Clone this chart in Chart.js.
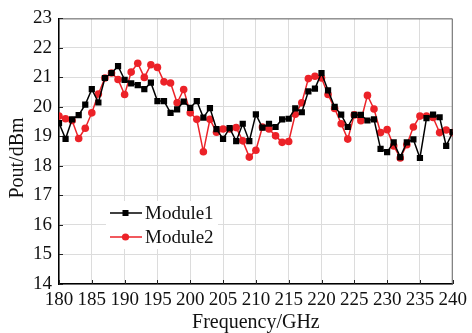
<!DOCTYPE html>
<html>
<head>
<meta charset="utf-8">
<script src="https://cdn.jsdelivr.net/npm/chart.js@4.4.0/dist/chart.umd.min.js"></script>
<style>
html, body { margin: 0; padding: 0; background: #fff; }
#wrap { width: 472px; height: 333px; }
</style>
</head>
<body>
<div id="wrap"><canvas id="myChart" width="472" height="333"></canvas></div>
<script>
// frequency points (GHz)
var freqs = [180, 181, 182, 183, 184, 185, 186, 187, 188, 189,
             190, 191, 192, 193, 194, 195, 196, 197, 198, 199,
             200, 201, 202, 203, 204, 205, 206, 207, 208, 209,
             210, 211, 212, 213, 214, 215, 216, 217, 218, 219,
             220, 221, 222, 223, 224, 225, 226, 227, 228, 229,
             230, 231, 232, 233, 234, 235, 236, 237, 238, 239, 240];

// output power (dBm)
var module1 = [19.45, 18.92, 19.58, 19.72, 20.08, 20.6, 20.15, 20.98, 21.15, 21.38,
               20.92, 20.8, 20.74, 20.6, 20.82, 20.2, 20.2, 19.8, 19.92, 20.18,
               19.97, 20.2, 19.64, 19.96, 19.25, 18.92, 19.28, 18.84, 19.43, 18.84,
               19.75, 19.3, 19.43, 19.32, 19.58, 19.6, 19.95, 19.82, 20.53, 20.62,
               21.15, 20.56, 20.0, 19.74, 19.32, 19.73, 19.73, 19.54, 19.58, 18.58,
               18.47, 18.8, 18.3, 18.8, 18.9, 18.27, 19.62, 19.74, 19.65, 18.68, 19.15];

var module2 = [19.69, 19.6, 19.54, 18.93, 19.28, 19.8, 20.44, 20.98, 21.15, 20.93,
               20.42, 21.18, 21.48, 21.0, 21.43, 21.34, 20.85, 20.81, 20.14, 20.59,
               19.8, 19.58, 18.48, 19.58, 19.14, 19.25, 19.25, 19.3, 18.85, 18.3,
               18.53, 19.32, 19.25, 19.02, 18.8, 18.83, 19.75, 20.14, 20.96, 21.04,
               20.98, 20.42, 19.95, 19.43, 18.91, 19.73, 19.53, 20.39, 19.93, 19.13,
               19.23, 18.68, 18.27, 18.72, 19.32, 19.69, 19.69, 19.64, 19.13, 19.22, 19.13];

var seriesNames = ['Module1', 'Module2'];
var xTitle = 'Frequency/GHz';
var yTitle = 'Pout/dBm';

var FONT = '"Liberation Serif", "Times New Roman", serif';
var RED = 'rgb(236, 34, 40)';

function toPoints(ys) {
    return freqs.map(function (f, i) { return { x: f, y: ys[i] }; });
}

// frame, inward ticks, y title and legend box
var decor = {
    id: 'decor',
    beforeDatasetsDraw: function (chart) {
        var ctx = chart.ctx, a = chart.chartArea;
        var xs = chart.scales.x, ys = chart.scales.y;
        ctx.save();
        ctx.strokeStyle = '#666';
        ctx.lineWidth = 1;
        ctx.beginPath();
        ctx.moveTo(a.left, a.top + 0.5);
        ctx.lineTo(a.right - 0.5, a.top + 0.5);
        ctx.lineTo(a.right - 0.5, a.bottom);
        ctx.stroke();
        ctx.strokeStyle = '#222';
        ctx.beginPath();
        xs.ticks.forEach(function (t) {
            var px = Math.round(xs.getPixelForValue(t.value)) + 0.5;
            ctx.moveTo(px, a.bottom);
            ctx.lineTo(px, a.bottom - 4);
        });
        ys.ticks.forEach(function (t) {
            var py = Math.round(ys.getPixelForValue(t.value)) + 0.5;
            ctx.moveTo(a.left, py);
            ctx.lineTo(a.left + 4, py);
        });
        ctx.stroke();
        // y axis title
        ctx.fillStyle = '#111';
        ctx.font = '20px ' + FONT;
        ctx.textAlign = 'center';
        ctx.textBaseline = 'middle';
        ctx.translate(18, 158);
        ctx.rotate(-Math.PI / 2);
        ctx.fillText(yTitle, 0, 0);
        ctx.restore();
    },
    afterDatasetsDraw: function (chart) {
        var ctx = chart.ctx;
        var rows = [
            { y: 213, color: '#000', style: 'rect' },
            { y: 237, color: RED, style: 'circle' }
        ];
        ctx.save();
        ctx.fillStyle = '#fff';
        ctx.fillRect(106, 201, 112, 48);
        rows.forEach(function (r, i) {
            ctx.strokeStyle = r.color;
            ctx.fillStyle = r.color;
            ctx.lineWidth = 1.5;
            ctx.beginPath();
            ctx.moveTo(110, r.y);
            ctx.lineTo(142, r.y);
            ctx.stroke();
            if (r.style === 'rect') {
                ctx.fillRect(122.5, r.y - 3, 6, 6);
            } else {
                ctx.beginPath();
                ctx.arc(125.5, r.y, 3.6, 0, Math.PI * 2);
                ctx.fill();
            }
            ctx.fillStyle = '#111';
            ctx.font = '19px ' + FONT;
            ctx.textAlign = 'left';
            ctx.textBaseline = 'middle';
            ctx.fillText(seriesNames[i], 145, r.y + 1);
        });
        ctx.restore();
    }
};

var chartData = {
    type: 'line',
    data: {
        datasets: [{
            label: seriesNames[0],
            data: toPoints(module1),
            borderColor: '#000',
            backgroundColor: '#000',
            borderWidth: 1.5,
            pointStyle: 'rect',
            pointRadius: 4.4,
            pointBorderWidth: 0,
            tension: 0
        }, {
            label: seriesNames[1],
            data: toPoints(module2),
            borderColor: RED,
            backgroundColor: RED,
            borderWidth: 1.5,
            pointStyle: 'circle',
            pointRadius: 3.8,
            pointBorderWidth: 0,
            tension: 0
        }]
    },
    options: {
        responsive: false,
        animation: false,
        layout: { padding: { top: 17, right: 19, left: 0, bottom: 0 } },
        plugins: {
            legend: { display: false },
            tooltip: { enabled: false }
        },
        scales: {
            x: {
                type: 'linear',
                min: 180,
                max: 240,
                ticks: {
                    stepSize: 5,
                    color: '#111',
                    padding: 5,
                    maxRotation: 0,
                    autoSkip: false,
                    font: { family: FONT, size: 19 }
                },
                grid: { color: '#dcdcdc', lineWidth: 1, drawTicks: false },
                border: { color: '#000', width: 1.5 },
                title: {
                    display: true,
                    text: xTitle,
                    color: '#111',
                    padding: 0,
                    font: { family: FONT, size: 20, lineHeight: 1 }
                },
                afterFit: function (scale) { scale.height = 49; }
            },
            y: {
                min: 14,
                max: 23,
                ticks: {
                    stepSize: 1,
                    color: '#111',
                    padding: 7,
                    font: { family: FONT, size: 19 }
                },
                grid: { color: '#dcdcdc', lineWidth: 1, drawTicks: false },
                border: { color: '#000', width: 1.5 },
                afterFit: function (scale) { scale.width = 59; }
            }
        }
    },
    plugins: [decor]
};

var chartArea = document.getElementById('myChart').getContext('2d');
var myChart = new Chart(chartArea, chartData);
</script>
</body>
</html>
